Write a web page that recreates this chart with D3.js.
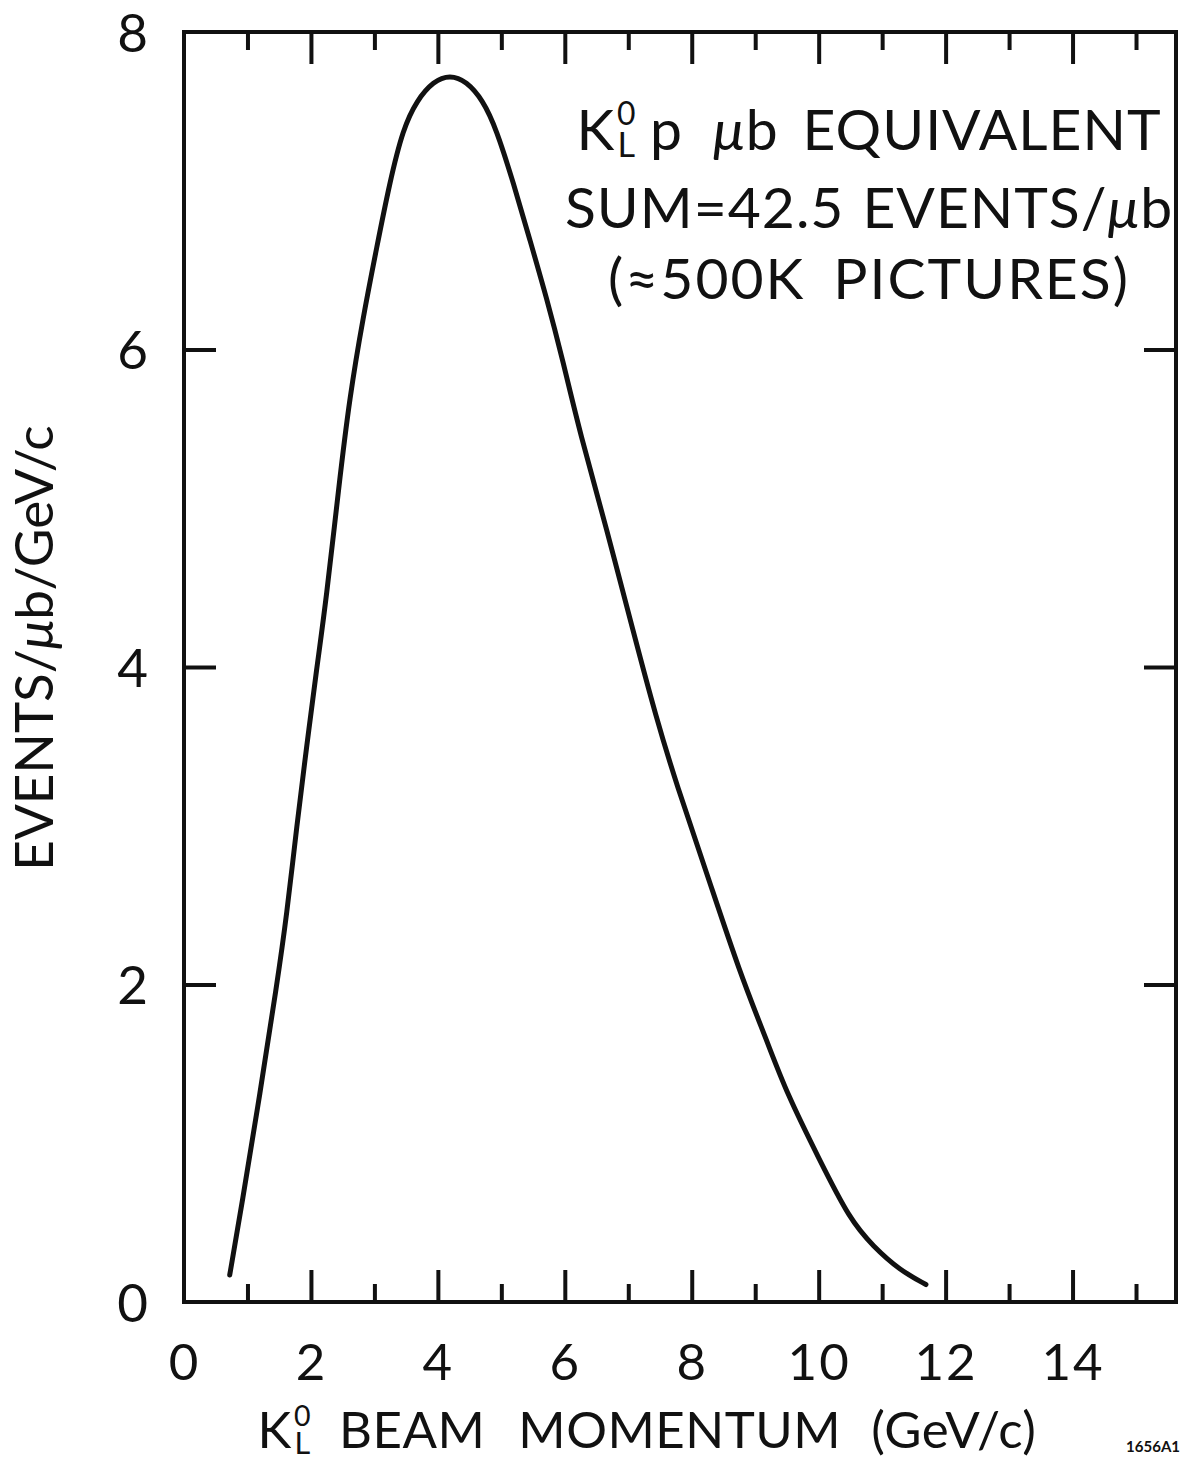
<!DOCTYPE html>
<html>
<head>
<meta charset="utf-8">
<script src="https://cdn.jsdelivr.net/npm/d3@7"></script>
<style>
  html, body { margin: 0; padding: 0; background: #fff; }
  svg { display: block; }
  text { font-family: Lato, "Open Sans", "Noto Sans", sans-serif; fill: #111; }
</style>
</head>
<body>
<svg id="chart" width="1187" height="1463"></svg>
<script>
// K0L beam momentum spectrum (events per microbarn per GeV/c)
const momentum = [0.72, 0.91, 1.20, 1.46, 1.62, 1.78, 1.93, 2.09, 2.24, 2.44, 2.61, 2.82,
  3.04, 3.24, 3.45, 3.67, 3.93, 4.19, 4.45, 4.71, 4.92, 5.19, 5.45, 5.71, 5.97, 6.24,
  6.66, 7.08, 7.44, 7.76, 8.23, 8.76, 9.18, 9.49, 10.02, 10.49, 10.86, 11.28, 11.69];
const events = [0.17, 0.61, 1.32, 1.99, 2.44, 3.01, 3.49, 3.99, 4.42, 5.14, 5.70, 6.20,
  6.65, 7.05, 7.39, 7.57, 7.69, 7.73, 7.69, 7.57, 7.39, 7.05, 6.69, 6.33, 5.93, 5.47,
  4.87, 4.22, 3.68, 3.26, 2.71, 2.07, 1.65, 1.32, 0.89, 0.52, 0.35, 0.20, 0.11];

const xTickLabels = [0, 2, 4, 6, 8, 10, 12, 14];
const xMinorTicks = [1, 3, 5, 7, 9, 11, 13, 15];
const yTickLabels = [0, 2, 4, 6, 8];
const yInnerTicks = [2, 4, 6];

const svg = d3.select("#chart");
const frameL = 184, frameR = 1176, frameT = 32, frameB = 1302;

const x = d3.scaleLinear().domain([0, 15.63]).range([frameL, frameR]);
const y = d3.scaleLinear().domain([0, 8]).range([frameB, frameT]);

const MAJOR = 32, MINOR = 18, STROKE = 4;
const FONT = "Lato, 'Open Sans', sans-serif";

function styleAxis(g) {
  g.select(".domain").remove();
  g.selectAll(".tick line").attr("stroke", "#111").attr("stroke-width", STROKE);
}

// bottom axis: long inward ticks with labels, short ticks between
svg.append("g").attr("transform", `translate(0,${frameB})`)
  .call(d3.axisBottom(x).tickValues(xTickLabels).tickSizeInner(-MAJOR).tickSizeOuter(0)
    .tickPadding(78).tickFormat(d3.format("d")))
  .call(styleAxis)
  .call(g => g.selectAll(".tick text").attr("font-size", 51).attr("fill", "#111")
    .attr("dy", 0).attr("font-family", FONT).attr("letter-spacing", 2))
  .call(g => g.selectAll(".tick").filter(d => d === 0).select("line").remove());
svg.append("g").attr("transform", `translate(0,${frameB})`)
  .call(d3.axisBottom(x).tickValues(xMinorTicks).tickSizeInner(-MINOR).tickSizeOuter(0).tickFormat(""))
  .call(styleAxis);

// top axis mirrors the bottom one without labels
svg.append("g").attr("transform", `translate(0,${frameT})`)
  .call(d3.axisTop(x).tickValues(xTickLabels.filter(d => d > 0)).tickSizeInner(-MAJOR).tickSizeOuter(0).tickFormat(""))
  .call(styleAxis);
svg.append("g").attr("transform", `translate(0,${frameT})`)
  .call(d3.axisTop(x).tickValues(xMinorTicks).tickSizeInner(-MINOR).tickSizeOuter(0).tickFormat(""))
  .call(styleAxis);

// left axis with labels, right axis ticks only
svg.append("g").attr("transform", `translate(${frameL},0)`)
  .call(d3.axisLeft(y).tickValues(yTickLabels).tickSizeInner(-MAJOR).tickSizeOuter(0)
    .tickPadding(36).tickFormat(d3.format("d")))
  .call(styleAxis)
  .call(g => g.selectAll(".tick").filter(d => !yInnerTicks.includes(d)).select("line").remove())
  .call(g => g.selectAll(".tick text").attr("font-size", 53).attr("fill", "#111")
    .attr("dy", "0.36em").attr("font-family", FONT));
svg.append("g").attr("transform", `translate(${frameR},0)`)
  .call(d3.axisRight(y).tickValues(yInnerTicks).tickSizeInner(-MAJOR).tickSizeOuter(0).tickFormat(""))
  .call(styleAxis);

// plot frame
svg.append("rect")
  .attr("x", frameL).attr("y", frameT)
  .attr("width", frameR - frameL).attr("height", frameB - frameT)
  .attr("fill", "none").attr("stroke", "#111").attr("stroke-width", STROKE);

// spectrum curve, drawn as a smooth faired line
const line = d3.line()
  .x((d, i) => x(momentum[i]))
  .y((d, i) => y(events[i]))
  .curve(d3.curveBasis);
svg.append("path")
  .datum(events)
  .attr("d", line)
  .attr("fill", "none")
  .attr("stroke", "#111")
  .attr("stroke-width", 5)
  .attr("stroke-linecap", "round");

// Lays out a row of text pieces left to right inside a group.
// Piece kinds: plain text {t, gap, italic}, or {kaon: true} for K with stacked 0 / L.
function textRow(g, baseY, size, pieces, spacing) {
  let cx = 0;
  pieces.forEach(p => {
    cx += p.gap || 0;
    if (p.kaon) {
      const k = g.append("text").attr("x", cx).attr("y", baseY).attr("font-size", size).text("K");
      const kw = k.node().getComputedTextLength();
      const sup = g.append("text").attr("x", cx + kw + size * 0.05).attr("y", baseY - size * 0.44)
        .attr("font-size", size * 0.56).text("0");
      const sub = g.append("text").attr("x", cx + kw + size * 0.06).attr("y", baseY + size * 0.12)
        .attr("font-size", size * 0.6).text("L");
      cx += kw + size * 0.06 + Math.max(sup.node().getComputedTextLength(), sub.node().getComputedTextLength());
    } else {
      const t = g.append("text").attr("x", cx).attr("y", baseY).attr("font-size", size)
        .attr("letter-spacing", spacing).text(p.t);
      if (p.italic) t.attr("font-style", "italic");
      cx += t.node().getComputedTextLength();
    }
  });
  return g;
}

function centreGroup(g, cx) {
  const bb = g.node().getBBox();
  g.attr("transform", `translate(${cx - (bb.x + bb.width / 2)},0)`);
}

// annotation block, each line centred
const noteSize = 57, noteX = 869;
centreGroup(textRow(svg.append("g"), 150, noteSize, [
  { kaon: true },
  { t: "p", gap: 14 },
  { t: "\u03bc", gap: 30, italic: true },
  { t: "b" },
  { t: "EQUIVALENT", gap: 24 }
], 1), noteX);

centreGroup(textRow(svg.append("g"), 228, noteSize, [
  { t: "SUM=42.5" },
  { t: "EVENTS/", gap: 18 },
  { t: "\u03bc", italic: true },
  { t: "b" }
], 1), noteX);

centreGroup(textRow(svg.append("g"), 299, noteSize, [
  { t: "(\u2248500K" },
  { t: "PICTURES)", gap: 28 }
], 2), noteX);

// x-axis title
centreGroup(textRow(svg.append("g"), 1448, 51, [
  { kaon: true },
  { t: "BEAM", gap: 28 },
  { t: "MOMENTUM", gap: 33 },
  { t: "(GeV/c)", gap: 30 }
], 0.5), 647);

// y-axis title
const yt = svg.append("text")
  .attr("transform", `translate(53,648) rotate(-90)`)
  .attr("font-size", 53).attr("text-anchor", "middle");
yt.append("tspan").text("EVENTS/");
yt.append("tspan").attr("font-style", "italic").text("\u03bc");
yt.append("tspan").text("b/GeV/c");

// drawing number
svg.append("text").attr("x", 1180).attr("y", 1452)
  .attr("font-size", 15).attr("font-weight", "bold").attr("text-anchor", "end")
  .text("1656A1");
</script>
</body>
</html>
